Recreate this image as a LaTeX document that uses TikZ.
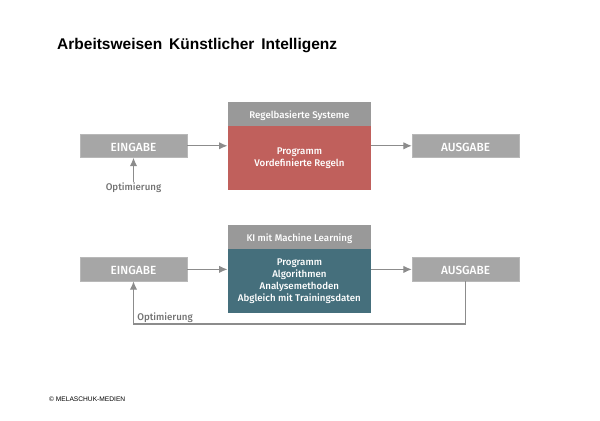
\documentclass[tikz,border=0pt]{standalone}
\usepackage{fontspec}
\setmainfont[BoldFont={Fira Sans Medium}]{Fira Sans}
\newfontfamily\titlefont{Liberation Sans}
\usetikzlibrary{arrows.meta}

\begin{document}
\begin{tikzpicture}[
	box/.style={draw=black!28, fill=black!35, text=white, font=\bfseries\fontsize{11.2}{12}\selectfont, inner sep=0pt, minimum width=3.57cm, minimum height=0.78cm, execute at begin node=\rule{0pt}{10.5pt}},
	headbox/.style={fill=black!40, text=white, font=\bfseries\fontsize{9.2}{10}\selectfont, inner sep=0pt, minimum width=4.78cm, minimum height=0.78cm, execute at begin node=\rule{0pt}{10pt}},
	progbox/.style={text=white, align=center, font=\bfseries\fontsize{9.2}{11.4}\selectfont, inner sep=0pt, minimum width=4.78cm, minimum height=2.13cm, execute at begin node=\rule{0pt}{12.5pt}},
	arr/.style={draw=black!45, line width=1.1pt, -{Latex[length=8pt, width=7pt]}},
	lbl/.style={text=black!55, font=\fontsize{9.2}{10}\selectfont\bfseries, inner sep=0pt}
]
	\definecolor{progred}{HTML}{C0605C}
	\definecolor{progteal}{HTML}{456F7C}
	\useasboundingbox (0.00, 0.00) rectangle (20.00, 14.03);

	\node[anchor=west, inner sep=0pt, font=\titlefont\bfseries\fontsize{14.7}{16}\selectfont] (title) at (1.90, 12.50) {Arbeitsweisen\, Künstlicher\, Intelligenz};

	% upper row
	\node[headbox] (headA) at (9.98, 10.23) {Regelbasierte Systeme};
	\node[progbox, fill=progred] (progA) at (9.98, 8.77) {Programm\\Vordefinierte Regeln};
	\node[box] (inA) at (4.45, 9.17) {EINGABE};
	\node[box] (outA) at (15.52, 9.17) {AUSGABE};
	\node[lbl] (optA) at (4.45, 7.78) {Optimierung};
	\draw[arr] (inA.east) -- (inA.east -| progA.west);
	\draw[arr] (outA.west -| progA.east) -- (outA.west);
	\draw[arr] (optA.north) -- (inA.south);

	% lower row
	\node[headbox] (headB) at (9.98, 6.13) {KI mit Machine Learning};
	\node[progbox, fill=progteal] (progB) at (9.98, 4.67) {Programm\\Algorithmen\\Analysemethoden\\Abgleich mit Trainingsdaten};
	\node[box] (inB) at (4.45, 5.05) {EINGABE};
	\node[box] (outB) at (15.52, 5.05) {AUSGABE};
	\node[lbl, anchor=west] (optB) at (4.57, 3.45) {Optimierung};
	\coordinate (loopB) at (15.52, 3.23);
	\draw[arr] (inB.east) -- (inB.east -| progB.west);
	\draw[arr] (outB.west -| progB.east) -- (outB.west);
	\draw[arr] (outB.south) -- (loopB) -| (inB.south);

	\node[anchor=west, inner sep=0pt, font=\titlefont\fontsize{6.3}{8}\selectfont] (copy) at (1.63, 0.73) {© MELASCHUK-MEDIEN};
\end{tikzpicture}
\end{document}
